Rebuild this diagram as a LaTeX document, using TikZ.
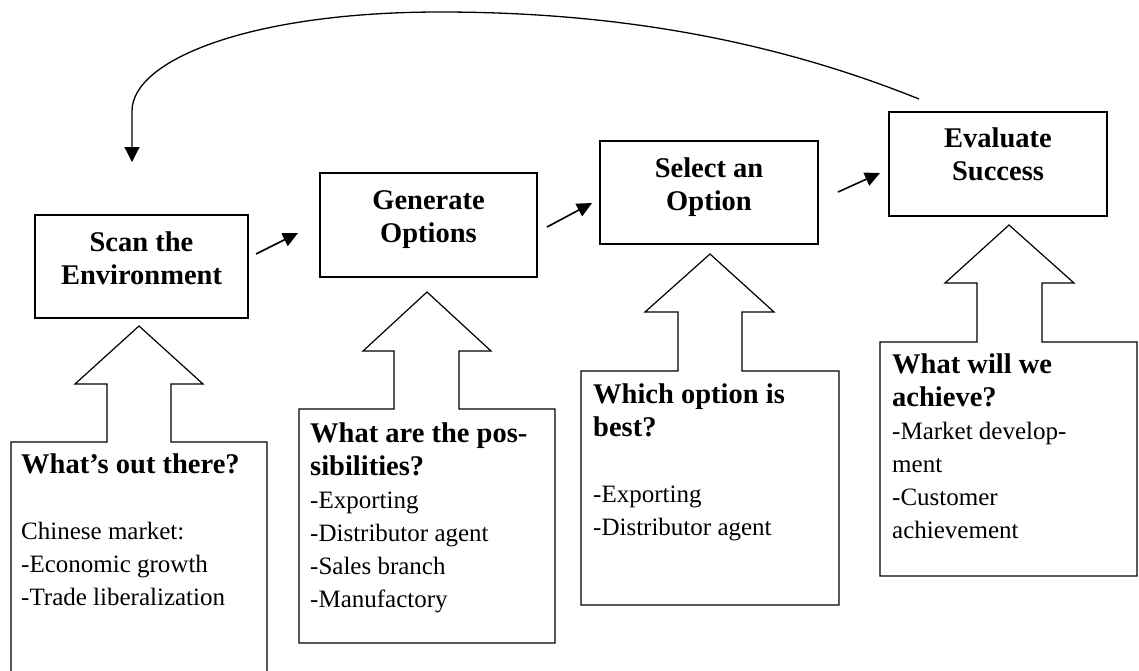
\documentclass[tikz,border=0pt]{standalone}
\usepackage{fontspec}
\setmainfont{Liberation Serif}
\usetikzlibrary{arrows.meta}
\newcommand\headtext[1]{{\fontsize{28.5}{33}\selectfont\bfseries #1}}
\begin{document}
\begin{tikzpicture}[x=1pt,y=-1pt,line join=miter,
  stepbox/.style={draw,line width=1.3pt,inner sep=0pt},
  outline/.style={draw,line width=1.2pt},
  flow/.style={line width=1.6pt,-{Triangle[length=15pt,width=14pt]}},
  loopback/.style={line width=1.3pt,-{Triangle[length=15pt,width=15pt]}},
  txt/.style={inner sep=0pt,anchor=base west,font=\fontsize{25}{33}\selectfont},
  ttl/.style={inner sep=0pt,anchor=base,font=\fontsize{25}{33}\selectfont}]
\useasboundingbox (0,0) rectangle (1139,670);

% process steps
\node[stepbox,minimum width=213pt,minimum height=103pt] (scan) at (141.5,266.5) {};
\node[stepbox,minimum width=217pt,minimum height=104pt] (gen) at (428.5,225) {};
\node[stepbox,minimum width=218pt,minimum height=103pt] (sel) at (709,192.5) {};
\node[stepbox,minimum width=218pt,minimum height=104pt] (eval) at (998,164) {};

\node[ttl] (scanT) at (141.5,251) {\begin{tabular}[t]{@{}c@{}}\headtext{Scan the}\\\headtext{Environment}\end{tabular}};
\node[ttl] (genT) at (428.5,209) {\begin{tabular}[t]{@{}c@{}}\headtext{Generate}\\\headtext{Options}\end{tabular}};
\node[ttl] (selT) at (709,177) {\begin{tabular}[t]{@{}c@{}}\headtext{Select an}\\\headtext{Option}\end{tabular}};
\node[ttl] (evalT) at (998,147) {\begin{tabular}[t]{@{}c@{}}\headtext{Evaluate}\\\headtext{Success}\end{tabular}};

% small arrows between the steps
\coordinate (a1s) at (256,254); \coordinate (a1e) at (298,233);
\coordinate (a2s) at (547,227); \coordinate (a2e) at (592,203);
\coordinate (a3s) at (838,192); \coordinate (a3e) at (880,173);
\draw[flow] (a1s) -- (a1e);
\draw[flow] (a2s) -- (a2e);
\draw[flow] (a3s) -- (a3e);

% feedback loop from the last step back to the first
\coordinate (ls) at (919,99);
\coordinate (lt) at (440,12);
\coordinate (le) at (132,162);
\draw[loopback] (ls) .. controls (760,35) and (600,12) .. (lt)
  .. controls (250,12) and (132,60) .. (132,111) -- (le);

% callout boxes with upward block arrows
\draw[outline] (11,672) -- (11,442) -- (107,442) -- (107,384) -- (75,384) -- (139,326)
  -- (203,384) -- (171,384) -- (171,442) -- (267,442) -- (267,672);
\draw[outline] (299,643) -- (299,409) -- (394,409) -- (394,351) -- (363,351) -- (427,292)
  -- (491,351) -- (459,351) -- (459,409) -- (555,409) -- (555,643) -- cycle;
\draw[outline] (581,605) -- (581,371) -- (678,371) -- (678,312) -- (645,312) -- (710,254)
  -- (774,312) -- (742,312) -- (742,371) -- (839,371) -- (839,605) -- cycle;
\draw[outline] (880,576) -- (880,342) -- (977,342) -- (977,283) -- (945,283) -- (1009,225)
  -- (1074,283) -- (1042,283) -- (1042,342) -- (1137,342) -- (1137,576) -- cycle;

\node[txt] (q1) at (21,473) {\begin{tabular}[t]{@{}l@{}}\headtext{What’s out there?}\\ \\Chinese market:\\-Economic growth\\-Trade liberalization\end{tabular}};
\node[txt] (q2) at (310,442) {\begin{tabular}[t]{@{}l@{}}\headtext{What are the pos-}\\\headtext{sibilities?}\\-Exporting\\-Distributor agent\\-Sales branch\\-Manufactory\end{tabular}};
\node[txt] (q3) at (593,403) {\begin{tabular}[t]{@{}l@{}}\headtext{Which option is}\\\headtext{best?}\\ \\-Exporting\\-Distributor agent\end{tabular}};
\node[txt] (q4) at (892,373) {\begin{tabular}[t]{@{}l@{}}\headtext{What will we}\\\headtext{achieve?}\\-Market develop-\\ment\\-Customer\\achievement\end{tabular}};
\end{tikzpicture}
\end{document}
